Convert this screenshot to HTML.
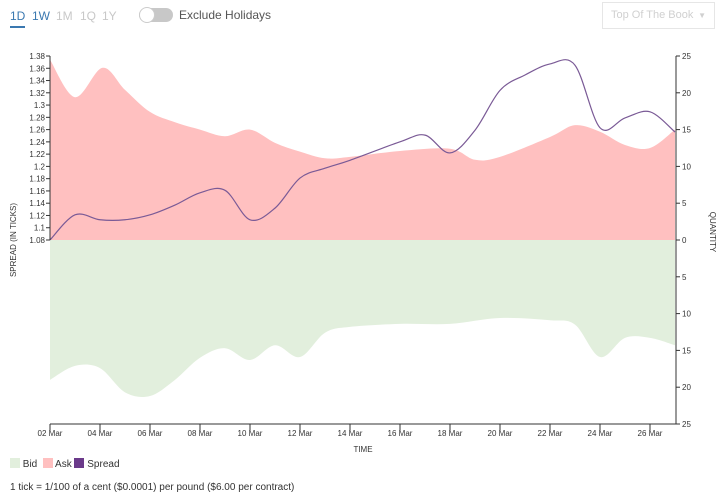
<!DOCTYPE html>
<html><head><meta charset="utf-8">
<style>
body{margin:0;width:722px;height:500px;background:#fff;font-family:"Liberation Sans",sans-serif;overflow:hidden;position:relative}
.tab{position:absolute;top:9px;font-size:12px;color:#c8c8c8}
</style></head><body>
<div class="tab" style="left:10px;color:#3a78b0;border-bottom:2px solid #3a78b0;padding-bottom:3px">1D</div>
<div class="tab" style="left:32px;color:#3a78b0">1W</div>
<div class="tab" style="left:56px">1M</div>
<div class="tab" style="left:80px">1Q</div>
<div class="tab" style="left:102px">1Y</div>
<div style="position:absolute;left:139px;top:8px;width:34px;height:14px;border-radius:7px;background:#c8c8c8"><div style="position:absolute;left:0;top:-1px;width:14px;height:14px;border-radius:50%;background:#fff;border:1px solid #ccc"></div></div>
<div style="position:absolute;left:179px;top:8px;font-size:12px;color:#555">Exclude Holidays</div>
<div style="position:absolute;left:602px;top:2px;width:113px;height:27px;border:1px solid #e6e6e6;box-sizing:border-box;font-size:11px;color:#d0d0d0;line-height:25px;padding-left:8px">Top Of The Book<span style="position:absolute;right:8px;top:0;font-size:8px">▼</span></div>
<svg id="chart" width="722" height="500" style="position:absolute;left:0;top:0;font-family:'Liberation Sans',sans-serif"></svg>
<div style="position:absolute;left:10px;top:458px;font-size:10px;color:#333;line-height:12px">
<span><span style="display:inline-block;width:10px;height:10px;background:#e2efdd;vertical-align:-1px"></span> Bid</span>&nbsp;
<span><span style="display:inline-block;width:10px;height:10px;background:#ffc0c0;vertical-align:-1px"></span> Ask</span>
<span><span style="display:inline-block;width:10px;height:10px;background:#6b3a8a;vertical-align:-1px"></span> Spread</span>
</div>
<div style="position:absolute;left:10px;top:482px;font-size:10px;color:#333">1 tick = 1/100 of a cent ($0.0001) per pound ($6.00 per contract)</div>
<script>
const askDays=[2,3,4.1,5,6,7,8,9,10,11,12,13,14,16,18,19,20,22,23,24,25,26,27];
const askQty=[24.5,19.4,23.4,20.4,17.4,16,15,14.1,15,13.2,12,11.1,11.3,12.1,12.4,10.9,11.3,14,15.6,14.7,12.9,12.5,15];
const bidDays=[2,3,4,5,6,7,8,9,10,11,12,13,14,16,18,20,22,23,24,25,26,27];
const bidQty=[19,17.1,17.4,20.7,21.2,19,16,14.7,16.3,14.3,15.9,12.6,11.8,11.4,11.4,10.6,10.9,11.5,15.9,13.3,13.3,14.3];
const spreadDays=[2,3,4,5,6,7,8,9,10,11,12,13,14,16,17,18,19,20,21,22,23,24,25,26,27];
const spreadVal=[1.08,1.121,1.113,1.113,1.121,1.137,1.157,1.161,1.113,1.132,1.181,1.197,1.21,1.24,1.251,1.222,1.259,1.324,1.349,1.367,1.365,1.263,1.279,1.289,1.256];
const xTickDays=[2,4,6,8,10,12,14,16,18,20,22,24,26];
const leftTicks=[1.08,1.1,1.12,1.14,1.16,1.18,1.2,1.22,1.24,1.26,1.28,1.3,1.32,1.34,1.36,1.38];
const rightTicks=[25,20,15,10,5,0,-5,-10,-15,-20,-25];

const L=50,R=675,T=56,B=424,Z=240;
const xs=d=>L+(d-2)*(R-L)/25;
const yq=q=>Z-q*(Z-T)/25;
const ys=v=>B-(v-1.08)*(Z-T)/0.3-(B-Z);
const svg=document.getElementById('chart');const NS='http://www.w3.org/2000/svg';
function mk(t,a,txt){const e=document.createElementNS(NS,t);for(const k in a)e.setAttribute(k,a[k]);if(txt!==undefined)e.textContent=txt;svg.appendChild(e);return e;}
function curve(p){let d='M'+p[0][0]+','+p[0][1];for(let i=0;i<p.length-1;i++){const p0=p[i-1]||p[i],p1=p[i],p2=p[i+1],p3=p[i+2]||p2;
d+=' C'+(p1[0]+(p2[0]-p0[0])/6)+','+(p1[1]+(p2[1]-p0[1])/6)+' '+(p2[0]-(p3[0]-p1[0])/6)+','+(p2[1]-(p3[1]-p1[1])/6)+' '+p2[0]+','+p2[1];}return d;}
const askP=askDays.map((d,i)=>[xs(d),yq(askQty[i])]);
const ask=mk('path',{d:curve(askP)+' L'+xs(27)+','+Z+' L'+xs(2)+','+Z+'Z',fill:'#ffc0c0'});

const bidP=bidDays.map((d,i)=>[xs(d),yq(-bidQty[i])]);
const bid=mk('path',{d:curve(bidP)+' L'+xs(27)+','+Z+' L'+xs(2)+','+Z+'Z',fill:'#e2efdd'});

const spP=spreadDays.map((d,i)=>[xs(d),ys(spreadVal[i])]);
const sp=mk('path',{d:curve(spP),fill:'none',stroke:'#7a5a96','stroke-width':1.2});

const la=mk('line',{x1:L,y1:T,x2:L,y2:Z,stroke:'#333'});
leftTicks.forEach(v=>{mk('line',{x1:L-4,x2:L,y1:ys(v),y2:ys(v),stroke:'#333'});
const t=mk('text',{x:L-5,y:ys(v)+3,'font-size':8,'text-anchor':'end',fill:'#333'},String(v));});
const ra=mk('line',{x1:676,y1:T,x2:676,y2:B,stroke:'#333'});
rightTicks.forEach(v=>{const y=Z-v*(Z-T)/25;mk('line',{x1:676,x2:680,y1:y,y2:y,stroke:'#333'});
const t=mk('text',{x:682,y:y+3,'font-size':8,fill:'#333'},String(Math.abs(v)));});
const xa=mk('line',{x1:L,y1:B,x2:676,y2:B,stroke:'#333'});
xTickDays.forEach(d=>{mk('line',{x1:xs(d),x2:xs(d),y1:B,y2:B+6,stroke:'#333'});
const t=mk('text',{x:xs(d),y:B+12,'font-size':8,'text-anchor':'middle',fill:'#333'},(d<10?'0':'')+d+' Mar');});
const xt=mk('text',{x:363,y:452,'font-size':8,'text-anchor':'middle',fill:'#333'},'TIME');
const yl=mk('text',{x:0,y:0,'font-size':8,'text-anchor':'middle',fill:'#333',transform:'translate(16,240) rotate(-90)'},'SPREAD (IN TICKS)');
const yr=mk('text',{x:0,y:0,'font-size':8,'text-anchor':'middle',fill:'#333',transform:'translate(710,232) rotate(90)'},'QUANTITY');
</script>
</body></html>
